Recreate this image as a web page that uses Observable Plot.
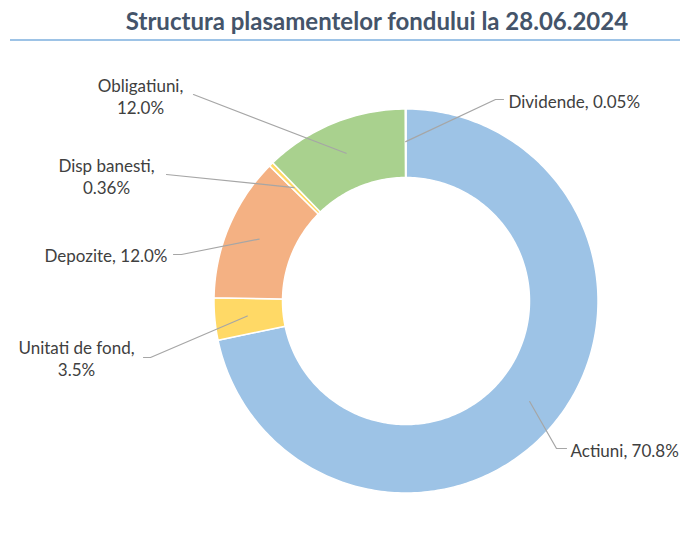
<!DOCTYPE html>
<html><head><meta charset="utf-8">
<script src="https://cdn.jsdelivr.net/npm/d3@7"></script>
<script src="https://cdn.jsdelivr.net/npm/@observablehq/plot@0.6"></script>
<style>
body{margin:0;background:#fff;}
#header{position:relative;width:688px;height:43px;}
#title{position:absolute;left:0;width:688px;top:6px;text-align:center;padding-left:66px;box-sizing:border-box;font:bold 24px Lato, sans-serif;color:#44546A;white-space:nowrap;line-height:30px;}
#rule{position:absolute;left:10px;width:670px;top:39px;height:2px;background:#9DC3E6;}
</style></head><body>
<div id="header"><div id="title">Structura plasamentelor fondului la 28.06.2024</div><div id="rule"></div></div>
<div id="chart"></div>
<script>
const categories = ["Actiuni","Unitati de fond","Depozite","Disp banesti","Obligatiuni","Dividende"];
const values = [70.8, 3.5, 12.0, 0.36, 12.0, 0.05];
const valueLabels = ["70.8%","3.5%","12.0%","0.36%","12.0%","0.05%"];
const colors = ["#9DC3E6","#FFD966","#F4B183","#FFD966","#A9D18E","#FFFFFF"];

// label placement (page pixels), set by hand as in the original
const labelLayout = [
  {name:"Actiuni", wrap:false, x:570, y:449, anchor:"start", knee:[[566,448],[556,448]]},
  {name:"Unitati de fond", wrap:true, x:76, y:357, anchor:"middle", knee:[[143,357],[150,357]]},
  {name:"Depozite", wrap:false, x:167, y:254, anchor:"end", knee:[[173,254],[181,254]]},
  {name:"Disp banesti", wrap:true, x:106, y:175, anchor:"middle", knee:[[166,174]]},
  {name:"Obligatiuni", wrap:true, x:140, y:95, anchor:"middle", knee:[[193,94]]},
  {name:"Dividende", wrap:false, x:508, y:100, anchor:"start", knee:[[503,99],[495,99]]}
];

const W = 688, H = 500, TOP = 43;
const CX = 405.5, CY = 300.5, R = 192, RI = 123.5 / 192, RL = 0.83;
const total = d3.sum(values);
let acc = 0;
const slices = categories.map((c, i) => {
  const a0 = acc / total * 2 * Math.PI; acc += values[i];
  const a1 = acc / total * 2 * Math.PI;
  return {name: c, a0, a1, mid: (a0 + a1) / 2, label: valueLabels[i]};
});
const pts = [];
for (const s of slices) {
  const n = Math.max(2, Math.ceil((s.a1 - s.a0) / (Math.PI / 180)));
  const ring = [];
  for (let k = 0; k <= n; k++) { const a = s.a0 + (s.a1 - s.a0) * k / n; ring.push([Math.sin(a), Math.cos(a)]); }
  for (let k = n; k >= 0; k--) { const a = s.a0 + (s.a1 - s.a0) * k / n; ring.push([RI * Math.sin(a), RI * Math.cos(a)]); }
  ring.push(ring[0]);
  ring.forEach(([x, y]) => pts.push({name: s.name, x, y}));
}
const ux = px => (px - CX) / R, uy = py => (CY - py) / R;
const leaders = [], labels = [];
for (const L of labelLayout) {
  const s = slices.find(d => d.name === L.name);
  L.knee.forEach(([px, py]) => leaders.push({name: L.name, x: ux(px), y: uy(py)}));
  leaders.push({name: L.name, x: RL * Math.sin(s.mid), y: RL * Math.cos(s.mid)});
  labels.push({x: ux(L.x), y: uy(L.y), anchor: L.anchor, text: s.name + "," + (L.wrap ? "\n" : " ") + s.label});
}

const textOpts = {x: "x", y: "y", text: "text", fill: "#404040", lineAnchor: "middle", lineHeight: 1.3, fontSize: 17};
const chart = Plot.plot({
  width: W, height: H, margin: 0,
  x: {domain: [(0 - CX) / R, (W - CX) / R], range: [0, W], axis: null},
  y: {domain: [(CY - TOP - H) / R, (CY - TOP) / R], range: [H, 0], axis: null},
  color: {domain: categories, range: colors},
  style: {fontFamily: "Lato, sans-serif", background: "white"},
  marks: [
    Plot.line(pts, {x: "x", y: "y", z: "name", fill: "name", stroke: "white", strokeWidth: 1.5, curve: "linear"}),
    Plot.line(leaders, {x: "x", y: "y", z: "name", stroke: "#A6A6A6", strokeWidth: 1.2}),
    Plot.text(labels.filter(d => d.anchor === "start"), {...textOpts, textAnchor: "start"}),
    Plot.text(labels.filter(d => d.anchor === "middle"), {...textOpts, textAnchor: "middle"}),
    Plot.text(labels.filter(d => d.anchor === "end"), {...textOpts, textAnchor: "end"})
  ]
});
document.getElementById("chart").appendChild(chart);
</script>
</body></html>
